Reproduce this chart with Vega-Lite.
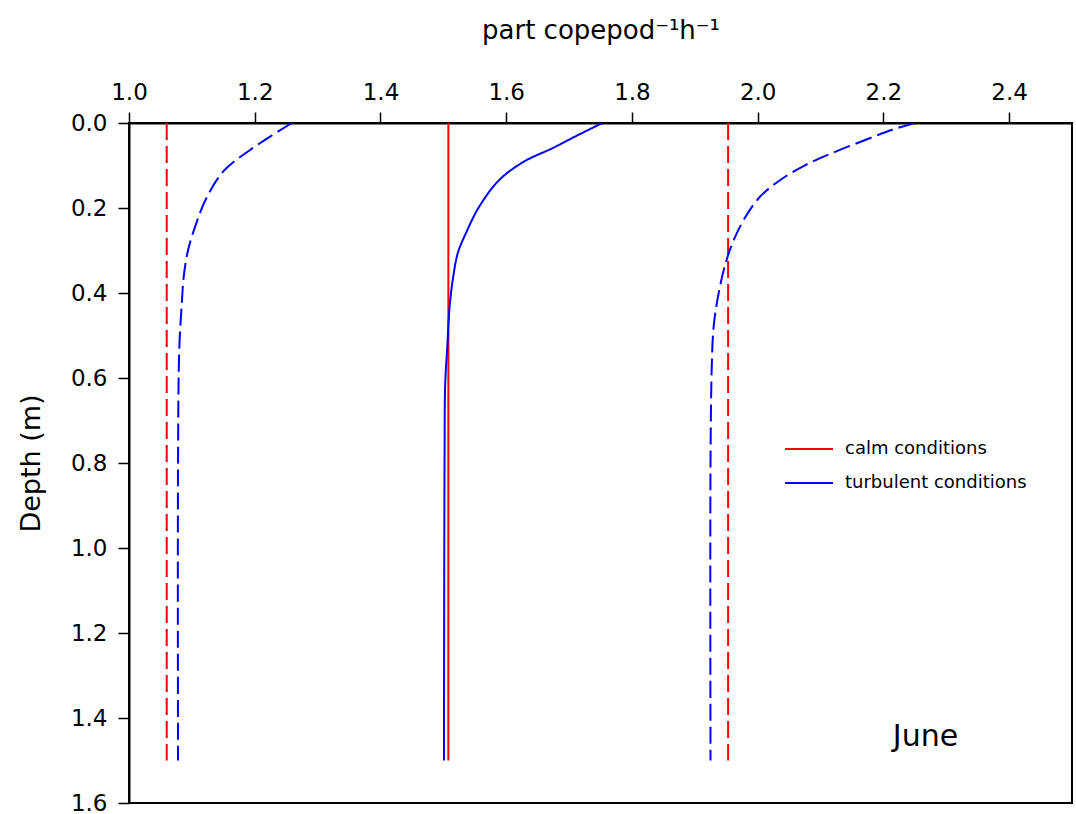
{
  "$schema": "https://vega.github.io/schema/vega-lite/v6.json",
  "width": 943,
  "height": 680,
  "autosize": {"type": "none"},
  "padding": {"left": 129, "top": 123, "right": 4, "bottom": 11},
  "background": "#ffffff",
  "config": {
    "font": "DejaVu Sans",
    "view": {"stroke": "#000000", "strokeWidth": 2},
    "axis": {"grid": false, "labelFlush": false, "domainColor": "#000000", "domainWidth": 2, "tickColor": "#000000", "tickWidth": 1.5, "tickSize": 11, "labelColor": "#000000", "titleColor": "#000000", "labelFont": "DejaVu Sans", "titleFont": "DejaVu Sans", "labelFontSize": 23, "titleFontSize": 26, "titleFontWeight": "normal"}
  },
  "datasets": {
    "curves": [
      {"series": "A calm", "cond": "calm conditions", "style": "dashed", "depth": 0, "value": 1.060},
      {"series": "A calm", "cond": "calm conditions", "style": "dashed", "depth": 1.5, "value": 1.060},
      {"series": "A turb", "cond": "turbulent conditions", "style": "dashed", "depth": 0, "value": 1.259},
      {"series": "A turb", "cond": "turbulent conditions", "style": "dashed", "depth": 0.064, "value": 1.192},
      {"series": "A turb", "cond": "turbulent conditions", "style": "dashed", "depth": 0.114, "value": 1.150},
      {"series": "A turb", "cond": "turbulent conditions", "style": "dashed", "depth": 0.177, "value": 1.123},
      {"series": "A turb", "cond": "turbulent conditions", "style": "dashed", "depth": 0.236, "value": 1.107},
      {"series": "A turb", "cond": "turbulent conditions", "style": "dashed", "depth": 0.299, "value": 1.094},
      {"series": "A turb", "cond": "turbulent conditions", "style": "dashed", "depth": 0.362, "value": 1.087},
      {"series": "A turb", "cond": "turbulent conditions", "style": "dashed", "depth": 0.424, "value": 1.084},
      {"series": "A turb", "cond": "turbulent conditions", "style": "dashed", "depth": 0.530, "value": 1.080},
      {"series": "A turb", "cond": "turbulent conditions", "style": "dashed", "depth": 0.800, "value": 1.078},
      {"series": "A turb", "cond": "turbulent conditions", "style": "dashed", "depth": 1.5, "value": 1.078},
      {"series": "B calm", "cond": "calm conditions", "style": "solid", "depth": 0, "value": 1.508},
      {"series": "B calm", "cond": "calm conditions", "style": "solid", "depth": 1.5, "value": 1.508},
      {"series": "B turb", "cond": "turbulent conditions", "style": "solid", "depth": 0, "value": 1.753},
      {"series": "B turb", "cond": "turbulent conditions", "style": "solid", "depth": 0.030, "value": 1.712},
      {"series": "B turb", "cond": "turbulent conditions", "style": "solid", "depth": 0.059, "value": 1.674},
      {"series": "B turb", "cond": "turbulent conditions", "style": "solid", "depth": 0.091, "value": 1.628},
      {"series": "B turb", "cond": "turbulent conditions", "style": "solid", "depth": 0.134, "value": 1.589},
      {"series": "B turb", "cond": "turbulent conditions", "style": "solid", "depth": 0.197, "value": 1.557},
      {"series": "B turb", "cond": "turbulent conditions", "style": "solid", "depth": 0.259, "value": 1.536},
      {"series": "B turb", "cond": "turbulent conditions", "style": "solid", "depth": 0.306, "value": 1.523},
      {"series": "B turb", "cond": "turbulent conditions", "style": "solid", "depth": 0.369, "value": 1.515},
      {"series": "B turb", "cond": "turbulent conditions", "style": "solid", "depth": 0.432, "value": 1.510},
      {"series": "B turb", "cond": "turbulent conditions", "style": "solid", "depth": 0.534, "value": 1.506},
      {"series": "B turb", "cond": "turbulent conditions", "style": "solid", "depth": 0.612, "value": 1.503},
      {"series": "B turb", "cond": "turbulent conditions", "style": "solid", "depth": 0.769, "value": 1.502},
      {"series": "B turb", "cond": "turbulent conditions", "style": "solid", "depth": 1.5, "value": 1.501},
      {"series": "C calm", "cond": "calm conditions", "style": "dashed", "depth": 0, "value": 1.953},
      {"series": "C calm", "cond": "calm conditions", "style": "dashed", "depth": 1.5, "value": 1.953},
      {"series": "C turb", "cond": "turbulent conditions", "style": "dashed", "depth": 0, "value": 2.250},
      {"series": "C turb", "cond": "turbulent conditions", "style": "dashed", "depth": 0.016, "value": 2.214},
      {"series": "C turb", "cond": "turbulent conditions", "style": "dashed", "depth": 0.040, "value": 2.171},
      {"series": "C turb", "cond": "turbulent conditions", "style": "dashed", "depth": 0.071, "value": 2.118},
      {"series": "C turb", "cond": "turbulent conditions", "style": "dashed", "depth": 0.099, "value": 2.076},
      {"series": "C turb", "cond": "turbulent conditions", "style": "dashed", "depth": 0.134, "value": 2.036},
      {"series": "C turb", "cond": "turbulent conditions", "style": "dashed", "depth": 0.173, "value": 2.004},
      {"series": "C turb", "cond": "turbulent conditions", "style": "dashed", "depth": 0.220, "value": 1.981},
      {"series": "C turb", "cond": "turbulent conditions", "style": "dashed", "depth": 0.275, "value": 1.962},
      {"series": "C turb", "cond": "turbulent conditions", "style": "dashed", "depth": 0.330, "value": 1.949},
      {"series": "C turb", "cond": "turbulent conditions", "style": "dashed", "depth": 0.400, "value": 1.938},
      {"series": "C turb", "cond": "turbulent conditions", "style": "dashed", "depth": 0.479, "value": 1.930},
      {"series": "C turb", "cond": "turbulent conditions", "style": "dashed", "depth": 0.573, "value": 1.927},
      {"series": "C turb", "cond": "turbulent conditions", "style": "dashed", "depth": 0.800, "value": 1.925},
      {"series": "C turb", "cond": "turbulent conditions", "style": "dashed", "depth": 1.5, "value": 1.925}
    ],
    "label": [{"text": "June", "value": 2.267, "depth": 1.445}]
  },
  "layer": [
    {
      "data": {"name": "curves"},
      "mark": {"type": "line", "strokeWidth": 2, "interpolate": "catmull-rom", "clip": true},
      "encoding": {
        "x": {"field": "value", "type": "quantitative", "scale": {"domain": [1.0, 2.5], "nice": false, "zero": false},
              "axis": {"orient": "top", "values": [1.0, 1.2, 1.4, 1.6, 1.8, 2.0, 2.2, 2.4], "format": ".1f", "title": "part copepod⁻¹h⁻¹", "labelPadding": 8, "titlePadding": 38}},
        "y": {"field": "depth", "type": "quantitative", "scale": {"domain": [0, 1.6], "reverse": true, "nice": false},
              "axis": {"orient": "left", "values": [0, 0.2, 0.4, 0.6, 0.8, 1.0, 1.2, 1.4, 1.6], "format": ".1f", "title": "Depth (m)", "titleFontSize": 27, "labelPadding": 11, "titlePadding": 25}},
        "color": {"field": "cond", "type": "nominal",
                  "scale": {"domain": ["calm conditions", "turbulent conditions"], "range": ["#ff0000", "#0000ff"]},
                  "legend": {"title": null, "orient": "none", "legendX": 655, "legendY": 301, "symbolType": "M-1,0H1", "symbolSize": 2304, "symbolStrokeWidth": 2, "labelFontSize": 18, "labelLimit": 400, "labelFont": "DejaVu Sans", "labelColor": "#000000", "labelOffset": 11, "rowPadding": -6, "padding": 0}},
        "strokeDash": {"field": "style", "type": "nominal", "scale": {"domain": ["dashed", "solid"], "range": [[17, 6], [1, 0]]}, "legend": null},
        "detail": {"field": "series"},
        "order": {"field": "depth", "type": "quantitative"}
      }
    },
    {
      "data": {"name": "label"},
      "mark": {"type": "text", "font": "DejaVu Sans", "fontSize": 30, "color": "#000000", "align": "center", "baseline": "middle"},
      "encoding": {
        "x": {"field": "value", "type": "quantitative"},
        "y": {"field": "depth", "type": "quantitative"},
        "text": {"field": "text"}
      }
    }
  ]
}
